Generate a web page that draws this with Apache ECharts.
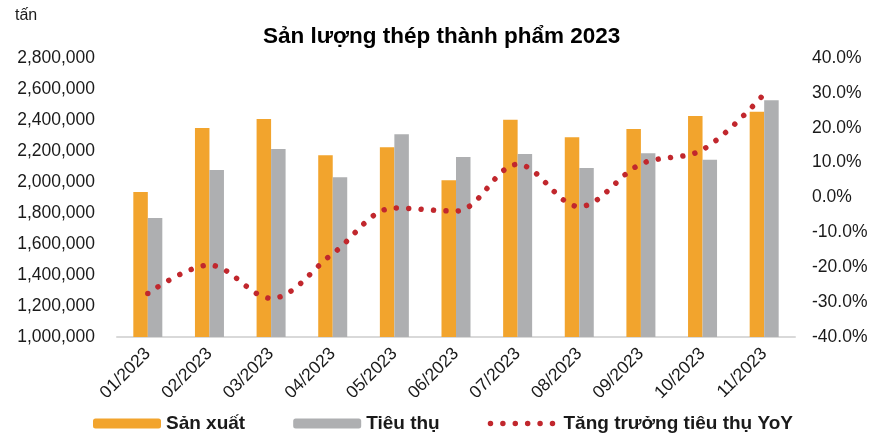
<!DOCTYPE html>
<html>
<head>
<meta charset="utf-8">
<script src="https://cdn.jsdelivr.net/npm/echarts@6/dist/echarts.min.js"></script>
<style>
  html, body { margin: 0; padding: 0; background: #fff; }
  #chart { width: 871px; height: 434px; }
</style>
</head>
<body>
<div id="chart"></div>
<script>
// Monthly finished-steel output, sales and YoY sales growth, 2023
const months = ['01/2023', '02/2023', '03/2023', '04/2023', '05/2023', '06/2023',
                '07/2023', '08/2023', '09/2023', '10/2023', '11/2023'];
const production = [1935000, 2348000, 2406000, 2172000, 2224000, 2011000,
                    2402000, 2288000, 2342000, 2426000, 2454000];
const sales = [1768000, 2077000, 2213000, 2030000, 2308000, 2161000,
               2181000, 2090000, 2185000, 2144000, 2527000];
const salesGrowth = [-27.5, -19.4, -28.9, -16.1, -3.0, -3.9,
                     9.5, -2.6, 9.6, 13.7, 29.7];
const leftTicks = { min: 1000000, max: 2800000, step: 200000 };
const rightTicks = { min: -40, max: 40, step: 10 };

const font = 'Liberation Sans, Arial, sans-serif';
const red = '#C1272D';
const dotted = { color: red, width: 5.5, type: [0.001, 12.4], cap: 'round' };
const chart = echarts.init(document.getElementById('chart'));

chart.setOption({
  animation: false,
  textStyle: { fontFamily: font },
  title: [
    {
      text: 'Sản lượng thép thành phẩm 2023',
      left: 258, top: 20,
      textStyle: { fontSize: 22.5, fontWeight: 'bold', color: '#000', fontFamily: font }
    },
    {
      text: 'tấn',
      left: 10, top: 3,
      textStyle: { fontSize: 16, fontWeight: 'normal', color: '#1a1a1a', fontFamily: font }
    }
  ],
  grid: { left: 117, right: 76, top: 58, bottom: 97 },
  legend: {
    left: 88, top: 409,
    itemWidth: 68, itemHeight: 10, itemGap: 48,
    textStyle: { fontSize: 19, fontWeight: 'bold', color: '#1a1a1a', fontFamily: font },
    data: [
      'Sản xuất',
      'Tiêu thụ',
      {
        name: 'Tăng trưởng tiêu thụ YoY',
        itemStyle: { color: 'transparent', borderWidth: 0 },
        lineStyle: dotted
      }
    ]
  },
  xAxis: {
    type: 'category',
    data: months,
    axisTick: { show: false },
    axisLine: { onZero: false, lineStyle: { color: '#d9d9d9', width: 2 } },
    axisLabel: {
      rotate: 45, interval: 0, margin: 14,
      fontSize: 17.5, color: '#1a1a1a', fontFamily: font
    }
  },
  yAxis: [
    {
      type: 'value',
      min: leftTicks.min, max: leftTicks.max, interval: leftTicks.step,
      splitLine: { show: false },
      axisLine: { show: false },
      axisTick: { show: false },
      axisLabel: {
        fontSize: 17.5, color: '#1a1a1a', margin: 22, fontFamily: font,
        formatter: v => v.toLocaleString('en-US')
      }
    },
    {
      type: 'value',
      min: rightTicks.min, max: rightTicks.max, interval: rightTicks.step,
      splitLine: { show: false },
      axisLine: { show: false },
      axisTick: { show: false },
      axisLabel: {
        fontSize: 17.5, color: '#1a1a1a', margin: 17, fontFamily: font,
        formatter: v => v.toFixed(1) + '%'
      }
    }
  ],
  series: [
    {
      name: 'Sản xuất',
      type: 'bar',
      data: production,
      barWidth: 14.5,
      barGap: '0%',
      itemStyle: { color: '#F2A42D' }
    },
    {
      name: 'Tiêu thụ',
      type: 'bar',
      data: sales,
      barWidth: 14.5,
      itemStyle: { color: '#AEAFB1' }
    },
    {
      name: 'Tăng trưởng tiêu thụ YoY',
      type: 'line',
      yAxisIndex: 1,
      data: salesGrowth,
      smooth: 0.35,
      symbol: 'none',
      itemStyle: { color: red },
      lineStyle: dotted,
      z: 5
    }
  ]
});
</script>
</body>
</html>
